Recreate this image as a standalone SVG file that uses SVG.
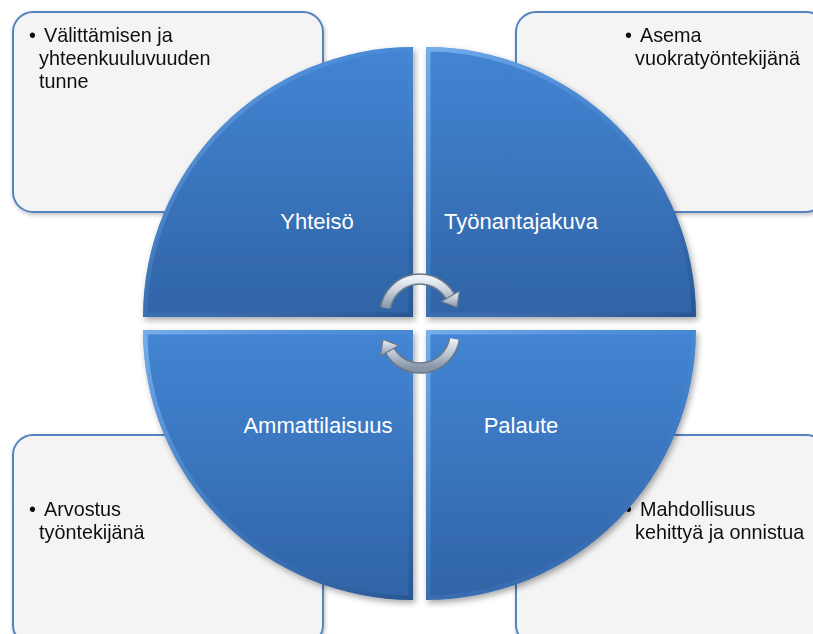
<svg xmlns="http://www.w3.org/2000/svg" width="813" height="634" viewBox="0 0 813 634">
  <style>
    .box { fill: #f4f4f4; stroke: #5784c1; stroke-width: 2; }
    .note { font-family: "Liberation Sans", Arial, sans-serif; font-size: 19.8px; fill: #111; }
    .piece { stroke: none; }
    .bevel { fill: none; stroke: url(#bevelGrad); stroke-width: 9; }
    .label { font-family: "Liberation Sans", Arial, sans-serif; font-size: 22px; fill: #ffffff; text-anchor: middle; }
    .arc-edge { fill: none; stroke: #6b7788; stroke-width: 11.5; }
    .arc-body { fill: none; stroke: url(#silver); stroke-width: 8.5; }
    .head { fill: url(#silver); stroke: #6b7788; stroke-width: 1.2; stroke-linejoin: round; }
  </style>
  <defs>
    <linearGradient id="blueGrad" x1="0" y1="0" x2="0" y2="1">
      <stop offset="0" stop-color="#4385d4"/>
      <stop offset="1" stop-color="#3064a6"/>
    </linearGradient>
    <linearGradient id="bevelGrad" x1="0" y1="0" x2="1" y2="1">
      <stop offset="0" stop-color="#8ec0f5" stop-opacity="0.7"/>
      <stop offset="0.5" stop-color="#5d98dd" stop-opacity="0.2"/>
      <stop offset="1" stop-color="#1d4478" stop-opacity="0.45"/>
    </linearGradient>
    <linearGradient id="silver" x1="0" y1="0" x2="0" y2="1">
      <stop offset="0" stop-color="#eef2f7"/>
      <stop offset="0.5" stop-color="#bcc6d4"/>
      <stop offset="1" stop-color="#8794a6"/>
    </linearGradient>
    <filter id="shadow" x="-10%" y="-10%" width="125%" height="125%">
      <feDropShadow dx="2" dy="3" stdDeviation="3" flood-color="#000" flood-opacity="0.35"/>
    </filter>
    <filter id="boxShadow" x="-5%" y="-5%" width="115%" height="115%">
      <feDropShadow dx="1" dy="2" stdDeviation="2" flood-color="#000" flood-opacity="0.25"/>
    </filter>
    <clipPath id="clipTL"><path d="M413,317 L143,317 A270,270 0 0 1 413,47 Z"/></clipPath>
    <clipPath id="clipTR"><path d="M426,317 L426,47 A270,270 0 0 1 696,317 Z"/></clipPath>
    <clipPath id="clipBL"><path d="M413,330 L413,600 A270,270 0 0 1 143,330 Z"/></clipPath>
    <clipPath id="clipBR"><path d="M426,330 L696,330 A270,270 0 0 1 426,600 Z"/></clipPath>
  </defs>

  <!-- corner text boxes -->
  <g id="box-yhteiso" filter="url(#boxShadow)">
    <rect class="box" x="13" y="12" width="310" height="200" rx="20"/>
    <text class="note" x="29" y="42">•</text>
    <text class="note" x="44" y="42">Välittämisen ja</text>
    <text class="note" x="39" y="65">yhteenkuuluvuuden</text>
    <text class="note" x="39" y="88">tunne</text>
  </g>
  <g id="box-tyonantajakuva" filter="url(#boxShadow)">
    <rect class="box" x="516" y="12" width="310" height="200" rx="20"/>
    <text class="note" x="625" y="42">•</text>
    <text class="note" x="640" y="42">Asema</text>
    <text class="note" x="635" y="65">vuokratyöntekijänä</text>
  </g>
  <g id="box-ammattilaisuus" filter="url(#boxShadow)">
    <rect class="box" x="13" y="435" width="310" height="210" rx="20"/>
    <text class="note" x="29" y="516">•</text>
    <text class="note" x="44" y="516">Arvostus</text>
    <text class="note" x="39" y="539">työntekijänä</text>
  </g>
  <g id="box-palaute" filter="url(#boxShadow)">
    <rect class="box" x="516" y="435" width="310" height="210" rx="20"/>
    <text class="note" x="625" y="516">•</text>
    <text class="note" x="640" y="516">Mahdollisuus</text>
    <text class="note" x="635" y="539">kehittyä ja onnistua</text>
  </g>

  <!-- circle quarters -->
  <g id="node-yhteiso">
    <path class="piece" filter="url(#shadow)" fill="url(#blueGrad)" d="M413,317 L143,317 A270,270 0 0 1 413,47 Z"/>
    <path class="bevel" clip-path="url(#clipTL)" d="M413,317 L143,317 A270,270 0 0 1 413,47 Z"/>
    <text class="label" x="317" y="229">Yhteisö</text>
  </g>
  <g id="node-tyonantajakuva">
    <path class="piece" filter="url(#shadow)" fill="url(#blueGrad)" d="M426,317 L426,47 A270,270 0 0 1 696,317 Z"/>
    <path class="bevel" clip-path="url(#clipTR)" d="M426,317 L426,47 A270,270 0 0 1 696,317 Z"/>
    <text class="label" x="521" y="229">Työnantajakuva</text>
  </g>
  <g id="node-ammattilaisuus">
    <path class="piece" filter="url(#shadow)" fill="url(#blueGrad)" d="M413,330 L413,600 A270,270 0 0 1 143,330 Z"/>
    <path class="bevel" clip-path="url(#clipBL)" d="M413,330 L413,600 A270,270 0 0 1 143,330 Z"/>
    <text class="label" x="318" y="433">Ammattilaisuus</text>
  </g>
  <g id="node-palaute">
    <path class="piece" filter="url(#shadow)" fill="url(#blueGrad)" d="M426,330 L696,330 A270,270 0 0 1 426,600 Z"/>
    <path class="bevel" clip-path="url(#clipBR)" d="M426,330 L696,330 A270,270 0 0 1 426,600 Z"/>
    <text class="label" x="521" y="433">Palaute</text>
  </g>

  <!-- cycle arrows in the centre -->
  <g id="connectors">
    <g id="arrow-top">
      <path class="arc-edge" d="M385.5,308 A35,35 0 0 1 450.3,296.5"/>
      <path class="arc-body" d="M385.5,308 A35,35 0 0 1 450.3,296.5"/>
      <polygon class="head" points="459.5,291 441.3,301.5 457,307.5"/>
    </g>
    <g id="arrow-bottom">
      <path class="arc-edge" d="M454.5,339 A35,35 0 0 1 389.7,350.5"/>
      <path class="arc-body" d="M454.5,339 A35,35 0 0 1 389.7,350.5"/>
      <polygon class="head" points="380.5,356 398.7,345.5 383,339.5"/>
    </g>
  </g>
</svg>
